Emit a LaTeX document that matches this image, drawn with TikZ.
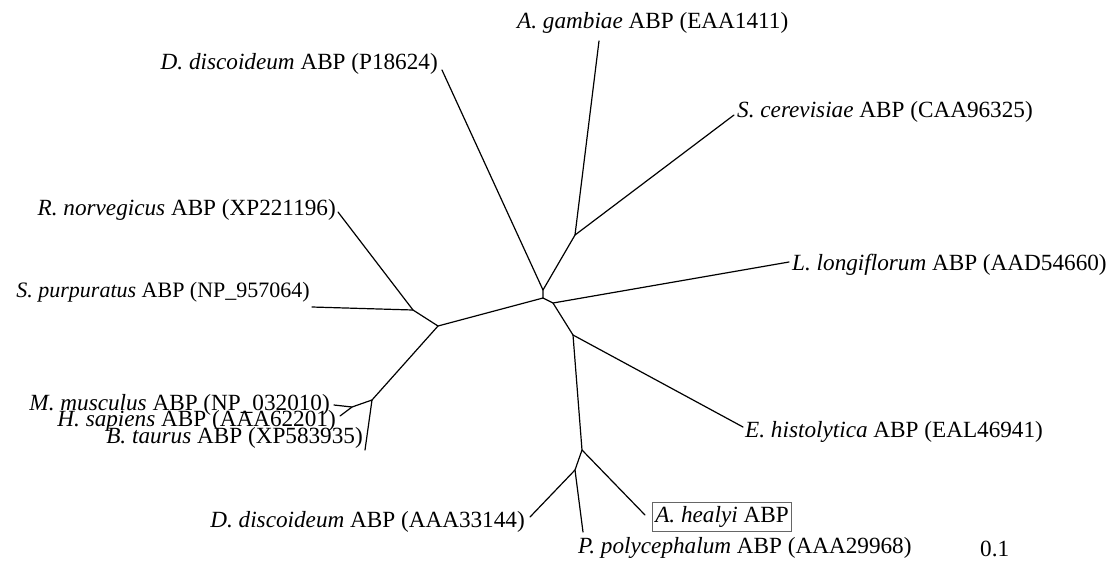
\documentclass[tikz,border=0pt]{standalone}
\usepackage{fontspec}
\setmainfont{Liberation Serif}
\begin{document}
\begin{tikzpicture}[x=1pt,y=-1pt,
  br/.style={line width=1.2pt, line cap=round, line join=round},
  lab/.style={inner sep=0pt, font=\fontsize{23.2}{27}\selectfont},
  labs/.style={inner sep=0pt, font=\fontsize{22}{26}\selectfont},
  hbox/.style={draw=black!60, line width=0.6pt, inner xsep=3pt, inner ysep=4pt}]
\useasboundingbox (0,0) rectangle (1111,566);
% junctions
\coordinate (c1) at (543,290);
\coordinate (c2) at (543,298);
\coordinate (c3) at (553,303);
\coordinate (c4) at (573,335);
\coordinate (n5) at (438,326);
\coordinate (n6) at (413,310);
\coordinate (gc) at (575,235);
\coordinate (lb) at (372,400);
\coordinate (mj) at (352,407);
\coordinate (dj) at (582,450);
\coordinate (ej) at (575,470);
% tips
\coordinate (tGam) at (599,41);
\coordinate (tCer) at (734,115);
\coordinate (tDdP) at (442,70);
\coordinate (tRn) at (338,212);
\coordinate (tSp) at (312,307);
\coordinate (tLl) at (789,262);
\coordinate (tMm) at (334,405);
\coordinate (tHs) at (340,416);
\coordinate (tBt) at (365,450);
\coordinate (tEh) at (743,427);
\coordinate (tDdA) at (530,517);
\coordinate (tAh) at (645,515);
\coordinate (tPp) at (583,532);
% labels
\node[lab, anchor=base west] (lGam) at (517,28) {\textit{A. gambiae} ABP (EAA1411)};
\node[lab, anchor=base east] (lDdP) at (438,69) {\textit{D. discoideum} ABP (P18624)};
\node[lab, anchor=base west] (lCer) at (737,117) {\textit{S. cerevisiae} ABP (CAA96325)};
\node[lab, anchor=base east] (lRn) at (336,215) {\textit{R. norvegicus} ABP (XP221196)};
\node[labs, anchor=base east] (lSp) at (310,297) {\textit{S. purpuratus} ABP (NP\_957064)};
\node[lab, anchor=base west] (lLl) at (792,270) {\textit{L. longiflorum} ABP (AAD54660)};
\node[lab, anchor=base east] (lMm) at (330,410) {\textit{M. musculus} ABP (NP\_032010)};
\node[lab, anchor=base east] (lHs) at (336,426) {\textit{H. sapiens} ABP (AAA62201)};
\node[lab, anchor=base east] (lBt) at (363,443) {\textit{B. taurus} ABP (XP583935)};
\node[lab, anchor=base west] (lEh) at (745,437) {\textit{E. histolytica} ABP (EAL46941)};
\node[lab, anchor=base east] (lDdA) at (525,527) {\textit{D. discoideum} ABP (AAA33144)};
\node[lab, hbox, anchor=base west] (lAh) at (652,522) {\textit{A. healyi} ABP};
\node[lab, anchor=base west] (lPp) at (578,553) {\textit{P. polycephalum} ABP (AAA29968)};
\node[lab, anchor=base west] (lSc) at (980,556) {0.1};
% branches
\draw[br] (tDdP) -- (c1) -- (c2) -- (n5);
\draw[br] (c1) -- (gc) -- (tGam);
\draw[br] (gc) -- (tCer);
\draw[br] (c2) -- (c3) -- (tLl);
\draw[br] (c3) -- (c4) -- (tEh);
\draw[br] (c4) -- (dj) -- (tAh);
\draw[br] (dj) -- (ej) -- (tDdA);
\draw[br] (ej) -- (tPp);
\draw[br] (n5) -- (n6) -- (tRn);
\draw[br] (n6) -- (tSp);
\draw[br] (n5) -- (lb) -- (mj) -- (tMm);
\draw[br] (mj) -- (tHs);
\draw[br] (lb) -- (tBt);
\end{tikzpicture}
\end{document}
